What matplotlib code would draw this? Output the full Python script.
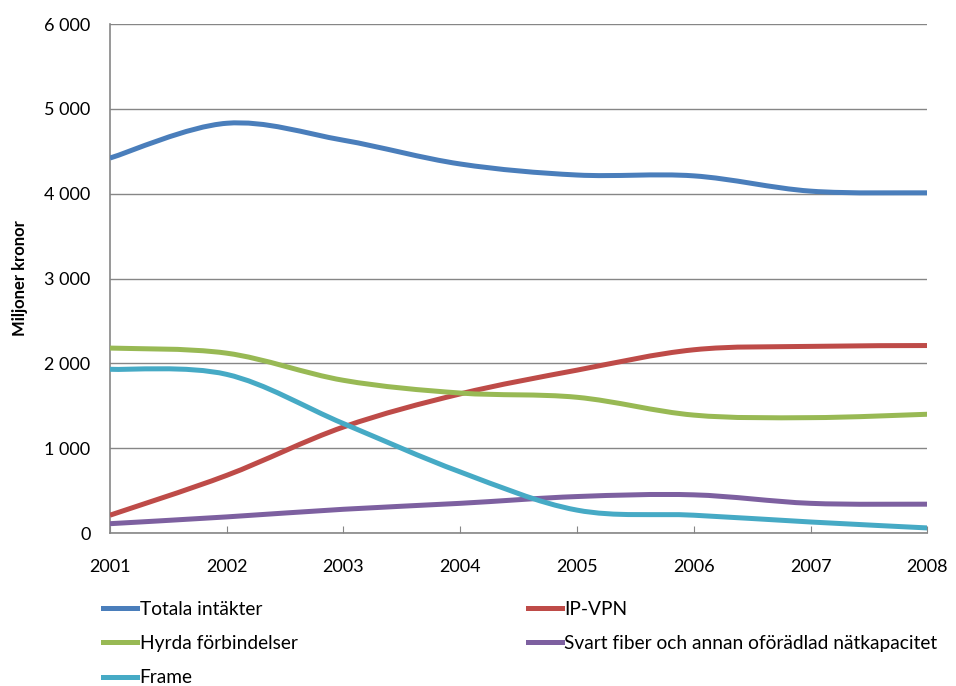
import matplotlib
matplotlib.use("Agg")
import matplotlib.pyplot as plt
from matplotlib.path import Path
from matplotlib.patches import PathPatch
from matplotlib.lines import Line2D

plt.rcParams['font.family'] = ['Lato', 'DejaVu Sans']

# data (miljoner kronor)
years = [2001, 2002, 2003, 2004, 2005, 2006, 2007, 2008]
totala = [4420, 4830, 4630, 4350, 4220, 4210, 4030, 4010]
ipvpn = [210, 680, 1250, 1640, 1920, 2160, 2200, 2210]
hyrda = [2180, 2120, 1800, 1650, 1600, 1390, 1360, 1400]
svart = [110, 190, 280, 350, 430, 450, 350, 340]
frame = [1930, 1870, 1290, 720, 270, 210, 130, 60]

names = ["Totala intäkter", "IP-VPN", "Hyrda förbindelser",
         "Svart fiber och annan oförädlad nätkapacitet", "Frame"]
series = [totala, ipvpn, hyrda, svart, frame]
colors = ["#4A7EBB", "#BE4B48", "#98B954", "#7D60A0", "#46AAC5"]
yticks = [0, 1000, 2000, 3000, 4000, 5000, 6000]


# smoothed line like Excel: cubic bezier segments through the points
def smooth_path(xs, ys):
    pts = list(zip(xs, ys))
    n = len(pts)
    verts = [pts[0]]
    codes = [Path.MOVETO]
    for i in range(n - 1):
        p0 = pts[i - 1] if i > 0 else pts[i]
        p1 = pts[i]
        p2 = pts[i + 1]
        p3 = pts[i + 2] if i + 2 < n else pts[i + 1]
        c1 = (p1[0] + (p2[0] - p0[0]) / 6, p1[1] + (p2[1] - p0[1]) / 6)
        c2 = (p2[0] - (p3[0] - p1[0]) / 6, p2[1] - (p3[1] - p1[1]) / 6)
        verts += [c1, c2, p2]
        codes += [Path.CURVE4] * 3
    return Path(verts, codes)


fig = plt.figure(figsize=(9.56, 6.86), dpi=100)
ax = fig.add_axes([0.115, 0.223, 0.855, 0.742])

lw = 3.6
handles = {}
for name, vals, c in zip(names, series, colors):
    patch = PathPatch(smooth_path(years, vals), fill=False, edgecolor=c,
                      lw=lw, capstyle='butt', joinstyle='round', zorder=3)
    ax.add_patch(patch)
    handles[name] = Line2D([], [], color=c, lw=lw)

ax.set_xlim(2001, 2008)
ax.set_ylim(0, 6000)
ax.set_xticks(years)
ax.set_xticklabels([str(y) for y in years], fontsize=13)
ax.set_yticks(yticks)
ax.set_yticklabels([f"{v:,}".replace(",", " ") for v in yticks], fontsize=13)
ax.tick_params(axis='x', direction='in', length=5, color='#868686', pad=19)
ax.tick_params(axis='y', length=0, pad=14)
ax.set_ylabel("Miljoner kronor", fontsize=12, fontweight='bold', labelpad=12)

ax.grid(axis='y', color='#868686', lw=1)
ax.set_axisbelow(True)
for s in ['top', 'right']:
    ax.spines[s].set_visible(False)
for s in ['left', 'bottom']:
    ax.spines[s].set_color('#868686')
    ax.spines[s].set_linewidth(1.2)

order = [names[0], names[2], names[4], names[1], names[3]]
ax.legend([handles[n] for n in order], order, ncol=2, frameon=False,
          fontsize=13.8, loc='upper left', bbox_to_anchor=(-0.018, -0.118),
          handlelength=1.8, handletextpad=0.12, columnspacing=12.0,
          labelspacing=0.9, borderaxespad=0)

fig.savefig("out.png", dpi=100)
